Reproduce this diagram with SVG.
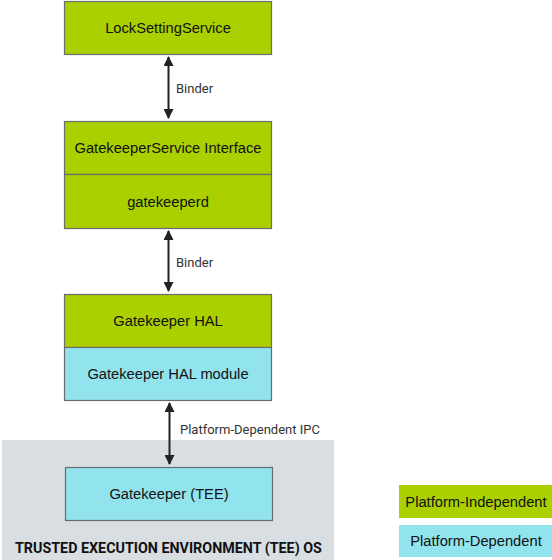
<svg xmlns="http://www.w3.org/2000/svg" width="552" height="560" viewBox="0 0 552 560">
<style>
.g{fill:#aad000;stroke:#6b6b6b;stroke-width:1.2}
.b{fill:#91e4ee;stroke:#6b6b6b;stroke-width:1.2}
.t{font-family:"Liberation Sans",Arial,sans-serif;font-size:14.7px;fill:#111;text-anchor:middle}
.l{font-family:Roboto,"Liberation Sans",sans-serif;font-size:13px;fill:#333}
.c{stroke:#222;stroke-width:2;fill:none;marker-start:url(#a);marker-end:url(#a)}
</style>
<defs>
<marker id="a" viewBox="0 0 10 10" refX="9" refY="5" markerWidth="5" markerHeight="5" orient="auto-start-reverse" markerUnits="strokeWidth">
<path d="M0,0L10,5L0,10z" fill="#222"/>
</marker>
</defs>
<rect id="tee-os" x="2" y="440" width="332" height="120" fill="#d8dee1"/>
<text x="15" y="553" font-family="Roboto,'Liberation Sans',sans-serif" font-size="14.3" font-weight="bold" fill="#111">TRUSTED EXECUTION ENVIRONMENT (TEE) OS</text>
<g id="lock"><rect class="g" x="64.5" y="1.5" width="207" height="53"/><text class="t" x="168" y="33">LockSettingService</text></g>
<g id="gks-if"><rect class="g" x="64.5" y="121.5" width="207" height="53"/><text class="t" x="168" y="153">GatekeeperService Interface</text></g>
<g id="gkd"><rect class="g" x="64.5" y="174.5" width="207" height="54"/><text class="t" x="168" y="207">gatekeeperd</text></g>
<g id="hal"><rect class="g" x="64.5" y="294.5" width="207" height="53"/><text class="t" x="168" y="326">Gatekeeper HAL</text></g>
<g id="halmod"><rect class="b" x="64.5" y="347.5" width="207" height="53"/><text class="t" x="168" y="379">Gatekeeper HAL module</text></g>
<g id="gktee"><rect class="b" x="65.5" y="467.5" width="207" height="53"/><text class="t" x="169" y="499">Gatekeeper (TEE)</text></g>
<g id="connectors">
<line class="c" x1="168.5" y1="57" x2="168.5" y2="118"/>
<line class="c" x1="168.5" y1="231" x2="168.5" y2="291"/>
<line class="c" x1="169.5" y1="403" x2="169.5" y2="464"/>
<text class="l" x="176" y="93">Binder</text>
<text class="l" x="176" y="267">Binder</text>
<text class="l" x="180" y="434">Platform-Dependent IPC</text>
</g>
<g id="legend-ind"><rect x="399" y="485" width="153" height="33" fill="#aad000"/><text class="t" x="476" y="507">Platform-Independent</text></g>
<g id="legend-dep"><rect x="399" y="525" width="153" height="32" fill="#91e4ee"/><text class="t" x="476" y="546">Platform-Dependent</text></g>
</svg>
